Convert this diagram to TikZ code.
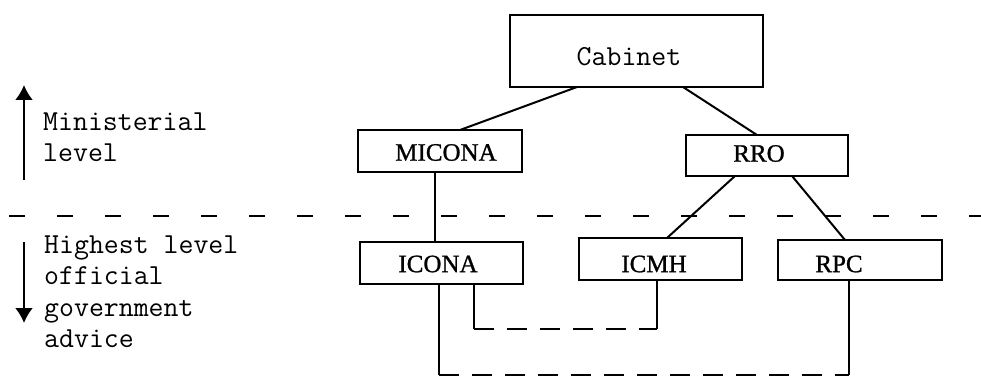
\documentclass[tikz,border=0pt]{standalone}
\usepackage{fontspec}
\setmainfont{Liberation Serif}
\usetikzlibrary{arrows.meta}
\begin{document}
\begin{tikzpicture}[x=1pt,y=-1pt,
  box/.style={draw, line width=2.2pt, inner sep=0pt, outer sep=0pt},
  lab/.style={font=\fontsize{25}{27}\selectfont\addfontfeatures{FakeBold=1}, inner sep=0pt},
  ttlab/.style={font=\ttfamily\fontsize{29}{31.5}\selectfont\addfontfeatures{FakeBold=1.5}, inner sep=0pt, align=left},
  conn/.style={line width=2pt},
  sepline/.style={line width=2.2pt, dash pattern=on 16pt off 32pt},
  dashconn/.style={line width=2pt, dash pattern=on 20pt off 13pt},
  lvlarrow/.style={line width=2.2pt, -{Latex[length=15pt,width=18pt]}}
]
\useasboundingbox (0,0) rectangle (981,377);

% boxes
\node[box, minimum width=253pt, minimum height=72pt] (cab) at (636.5,51) {};
\node[box, minimum width=164pt, minimum height=42pt] (mic) at (440,151) {};
\node[box, minimum width=162pt, minimum height=41pt] (rro) at (767,155.5) {};
\node[box, minimum width=163pt, minimum height=42pt] (ico) at (441.5,263) {};
\node[box, minimum width=163pt, minimum height=42pt] (icm) at (660.5,259) {};
\node[box, minimum width=164pt, minimum height=40pt] (rpc) at (860,260) {};

% box texts
\node[ttlab] (cabt) at (629,57) {Cabinet};
\node[lab] (mict) at (446,152.5) {MICONA};
\node[lab] (rrot) at (759,153.5) {RRO};
\node[lab] (icot) at (438,264) {ICONA};
\node[lab] (icmt) at (654,264) {ICMH};
\node[lab] (rpct) at (839,264) {RPC};

% level texts and arrows
\node[ttlab, anchor=north west] (minl) at (43,112.5) {Ministerial\\level};
\node[ttlab, anchor=north west] (offl) at (44,235.5) {Highest level\\official\\government\\advice};
\coordinate (ua0) at (24,180);
\coordinate (ua1) at (24,85);
\coordinate (da0) at (24,242);
\coordinate (da1) at (24,323);
\draw[lvlarrow] (ua0) -- (ua1);
\draw[lvlarrow] (da0) -- (da1);

% separating dashed line
\coordinate (sl) at (9,216);
\coordinate (sr) at (981,216);
\draw[sepline] (sl) -- (sr);

% hierarchy connectors
\draw[conn] ([xshift=-59.5pt]cab.south) -- ([xshift=20pt]mic.north);
\draw[conn] ([xshift=46.5pt]cab.south) -- ([xshift=-10pt]rro.north);
\draw[conn] ([xshift=-32pt]rro.south) -- ([xshift=6.5pt]icm.north);
\draw[conn] ([xshift=25pt]rro.south) -- ([xshift=-15pt]rpc.north);
\draw[conn] ([xshift=-5pt]mic.south) -- ([xshift=-5pt]mic.south |- ico.north);

% ICONA -- ICMH link
\coordinate (j1) at (474,329);
\coordinate (j2) at (657,329);
\draw[conn] (ico.south -| j1) -- (j1);
\draw[dashconn] (j1) -- (j2);
\draw[conn] (j2) -- (icm.south -| j2);

% ICONA -- RPC link
\coordinate (k1) at (439,375);
\coordinate (k2) at (849,375);
\draw[conn] (ico.south -| k1) -- (k1);
\draw[dashconn] (k1) -- (k2);
\draw[conn] (k2) -- (rpc.south -| k2);
\end{tikzpicture}
\end{document}
